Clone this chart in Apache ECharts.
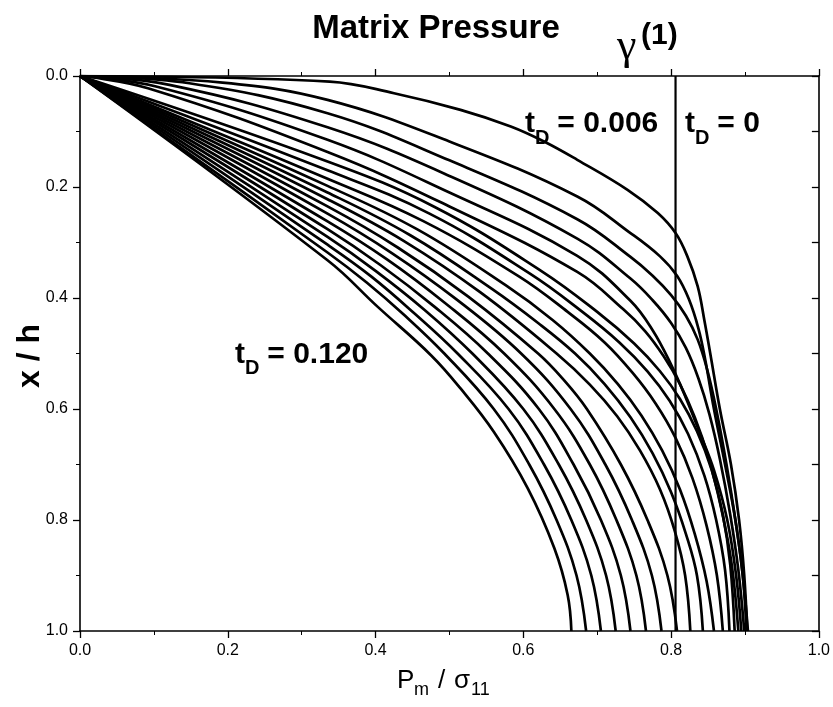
<!DOCTYPE html>
<html><head><meta charset="utf-8">
<script src="https://cdn.jsdelivr.net/npm/echarts/dist/echarts.min.js"></script>
<style>html,body{margin:0;padding:0;background:#fff}#c{width:833px;height:707px}</style>
</head><body><div id="c"></div>
<script>
// Dimensionless times of the plotted profiles
const tdValues = ['0.006','0.012','0.018','0.024','0.030','0.036','0.042','0.048','0.054','0.060',
                  '0.066','0.072','0.078','0.084','0.090','0.096','0.102','0.108','0.114','0.120'];
// Each profile: [P_m/sigma11, x/h] pairs
const td006 = [[0,0],[0.338,0.010],[0.425,0.031],[0.515,0.061],[0.583,0.091],[0.628,0.118],[0.673,0.151],[0.741,0.205],[0.782,0.247],[0.806,0.283],[0.822,0.325],[0.836,0.379],[0.845,0.440],[0.853,0.5],[0.866,0.6],[0.881,0.7],[0.892,0.8],[0.899,0.9],[0.903,1.0]];
const td012 = [[0,0],[0.193,0.012],[0.335,0.043],[0.5,0.118],[0.673,0.217],[0.745,0.283],[0.785,0.325],[0.808,0.360],[0.824,0.402],[0.837,0.455],[0.846,0.51],[0.858,0.6],[0.873,0.7],[0.887,0.8],[0.897,0.9],[0.904,1.0]];
const td018 = [[0,0],[0.148,0.013],[0.335,0.067],[0.5,0.152],[0.673,0.258],[0.745,0.326],[0.775,0.360],[0.800,0.395],[0.820,0.432],[0.836,0.475],[0.849,0.53],[0.861,0.6],[0.875,0.7],[0.887,0.8],[0.897,0.9],[0.902,1.0]];
const td024 = [[0,0],[0.121,0.016],[0.335,0.0925],[0.5,0.18],[0.673,0.293],[0.745,0.365],[0.775,0.404],[0.800,0.445],[0.820,0.49],[0.837,0.545],[0.852,0.61],[0.866,0.69],[0.880,0.79],[0.891,0.89],[0.899,1.0]];
const td030 = [[0,0],[0.103,0.019],[0.335,0.115],[0.5,0.21],[0.673,0.324],[0.745,0.405],[0.775,0.458],[0.800,0.52],[0.820,0.58],[0.838,0.64],[0.858,0.71],[0.876,0.8],[0.888,0.9],[0.895,1.0]];
const td036 = [[0,0],[0.092,0.022],[0.335,0.137],[0.5,0.235],[0.673,0.353],[0.735,0.42],[0.765,0.46],[0.790,0.505],[0.812,0.555],[0.832,0.615],[0.850,0.685],[0.868,0.78],[0.882,0.88],[0.891,1.0]];
const td042 = [[0,0],[0.335,0.154],[0.48,0.236],[0.624,0.351],[0.700,0.425],[0.750,0.482],[0.785,0.532],[0.812,0.582],[0.835,0.64],[0.855,0.71],[0.870,0.79],[0.880,0.88],[0.886,1.0]];
const td048 = [[0,0],[0.335,0.170],[0.473,0.248],[0.610,0.357],[0.680,0.425],[0.730,0.48],[0.768,0.532],[0.798,0.585],[0.823,0.645],[0.845,0.72],[0.861,0.80],[0.873,0.89],[0.879,1.0]];
const td054 = [[0,0],[0.335,0.185],[0.464,0.261],[0.594,0.361],[0.660,0.425],[0.710,0.48],[0.748,0.535],[0.779,0.59],[0.806,0.652],[0.829,0.725],[0.848,0.81],[0.862,0.9],[0.870,1.0]];
const td060 = [[0,0],[0.335,0.198],[0.456,0.276],[0.576,0.377],[0.640,0.44],[0.690,0.5],[0.728,0.555],[0.760,0.612],[0.788,0.675],[0.812,0.745],[0.832,0.825],[0.848,0.91],[0.858,1.0]];
const td066 = [[0,0],[0.335,0.210],[0.447,0.287],[0.558,0.384],[0.620,0.445],[0.670,0.5],[0.710,0.555],[0.745,0.615],[0.775,0.68],[0.800,0.75],[0.820,0.825],[0.835,0.9],[0.843,1.0]];
const td072 = [[0,0],[0.335,0.222],[0.438,0.297],[0.542,0.390],[0.645,0.5],[0.690,0.556],[0.727,0.613],[0.758,0.675],[0.785,0.745],[0.805,0.82],[0.819,0.9],[0.826,1.0]];
const td078 = [[0,0],[0.335,0.235],[0.430,0.309],[0.525,0.397],[0.620,0.5],[0.655,0.548],[0.686,0.6],[0.732,0.7],[0.768,0.8],[0.795,0.9],[0.808,1.0]];
const td084 = [[0,0],[0.335,0.248],[0.422,0.319],[0.510,0.403],[0.597,0.5],[0.664,0.6],[0.711,0.7],[0.747,0.8],[0.774,0.9],[0.787,1.0]];
const td090 = [[0,0],[0.335,0.262],[0.415,0.330],[0.494,0.409],[0.574,0.5],[0.642,0.6],[0.690,0.7],[0.726,0.8],[0.753,0.9],[0.766,1.0]];
const td096 = [[0,0],[0.335,0.276],[0.407,0.341],[0.480,0.416],[0.552,0.5],[0.621,0.6],[0.668,0.7],[0.705,0.8],[0.732,0.9],[0.745,1.0]];
const td102 = [[0,0],[0.335,0.290],[0.400,0.351],[0.466,0.421],[0.531,0.5],[0.600,0.6],[0.648,0.7],[0.685,0.8],[0.712,0.9],[0.725,1.0]];
const td108 = [[0,0],[0.335,0.304],[0.394,0.361],[0.452,0.427],[0.511,0.5],[0.580,0.6],[0.628,0.7],[0.665,0.8],[0.692,0.9],[0.705,1.0]];
const td114 = [[0,0],[0.335,0.318],[0.388,0.372],[0.440,0.432],[0.493,0.5],[0.560,0.6],[0.608,0.7],[0.645,0.8],[0.672,0.9],[0.685,1.0]];
const td120 = [[0,0],[0.335,0.332],[0.403,0.416],[0.475,0.503],[0.515,0.563],[0.560,0.641],[0.606,0.743],[0.642,0.851],[0.660,0.935],[0.665,1.0]];
// Initial (t_D = 0) matrix pressure gamma(1)
const gamma1 = 0.806;
const td000 = [[gamma1,0],[gamma1,1]];
const xTicks = [0,0.2,0.4,0.6,0.8,1.0];
const yTicks = [0,0.2,0.4,0.6,0.8,1.0];

const profiles = [td006,td012,td018,td024,td030,td036,td042,td048,td054,td060,
                  td066,td072,td078,td084,td090,td096,td102,td108,td114,td120];

const chart = echarts.init(document.getElementById('c'), null, {renderer:'canvas'});
const F = "'Liberation Sans', Arial, Helvetica, sans-serif";
const axBase = {
  type:'value', min:0, max:1, interval:0.2,
  splitLine:{show:false},
  axisLine:{show:true, onZero:false, lineStyle:{color:'#000', width:1.6}},
  axisTick:{show:true, length:7, lineStyle:{color:'#000', width:1.3}},
  minorTick:{show:true, splitNumber:2, length:4, lineStyle:{color:'#000', width:1}},
};
const series = profiles.map((d,i)=>({
  name:'tD=' + tdValues[i], type:'line', data:d, showSymbol:false, symbol:'none',
  smooth:0.4, clip:true,
  lineStyle:{color:'#000', width:2.7}, silent:true, z:3
}));
series.push({name:'tD=0', type:'line', data:td000, showSymbol:false, symbol:'none',
  lineStyle:{color:'#000', width:2.2}, silent:true, z:3});

const txt = (x,y,text,font,opt)=>Object.assign({type:'text', x, y,
  style:Object.assign({text, font, fill:'#000', textAlign:'left', textVerticalAlign:'middle'}, opt||{})});

chart.setOption({
  animation:false,
  backgroundColor:'#fff',
  grid:{left:80, top:76, width:739, height:555, containLabel:false},
  xAxis:[
    Object.assign({}, axBase, {position:'bottom',
      axisLabel:{show:true, color:'#000', fontSize:16, fontFamily:F, margin:12,
        formatter:v=>xTicks.includes(+v.toFixed(1)) ? v.toFixed(1) : ''}}),
    Object.assign({}, axBase, {position:'top', axisLabel:{show:false}})
  ],
  yAxis:[
    Object.assign({}, axBase, {position:'left', inverse:true,
      axisLabel:{show:true, color:'#000', fontSize:16, fontFamily:F, margin:12,
        formatter:v=>yTicks.includes(+v.toFixed(1)) ? v.toFixed(1) : ''}}),
    Object.assign({}, axBase, {position:'right', inverse:true, interval:0.1,
      axisTick:{show:true, inside:true, length:7, lineStyle:{color:'#000', width:1.3}},
      minorTick:{show:false}, axisLabel:{show:false}})
  ],
  series,
  graphic:[
    txt(436, 29, 'Matrix Pressure', "bold 33px " + F, {textAlign:'center'}),
    txt(617, 47, 'γ', "44px 'Liberation Serif', 'DejaVu Serif', serif"),
    txt(641, 36, '(1)', "bold 30px " + F),
    // t_D = 0.006
    txt(525, 124, 't', "bold 30px " + F),
    txt(535, 138, 'D', "bold 20px " + F),
    txt(549, 124, ' = 0.006', "bold 30px " + F),
    // t_D = 0
    txt(685, 124, 't', "bold 30px " + F),
    txt(695, 138, 'D', "bold 20px " + F),
    txt(709, 124, ' = 0', "bold 30px " + F),
    // t_D = 0.120
    txt(235, 354.5, 't', "bold 30px " + F),
    txt(245, 368.5, 'D', "bold 20px " + F),
    txt(259, 354.5, ' = 0.120', "bold 30px " + F),
    // axis names
    {type:'text', x:30, y:356, rotation:Math.PI/2,
      style:{text:'x / h', font:"bold 32px " + F, fill:'#000', textAlign:'center', textVerticalAlign:'middle'}},
    txt(397, 681, 'P', "26px " + F),
    txt(414, 690, 'm', "18px " + F),
    txt(438, 681, '/', "26px " + F),
    txt(454, 681, 'σ', "26px " + F),
    txt(471, 690, '11', "18px " + F)
  ]
});
</script></body></html>
